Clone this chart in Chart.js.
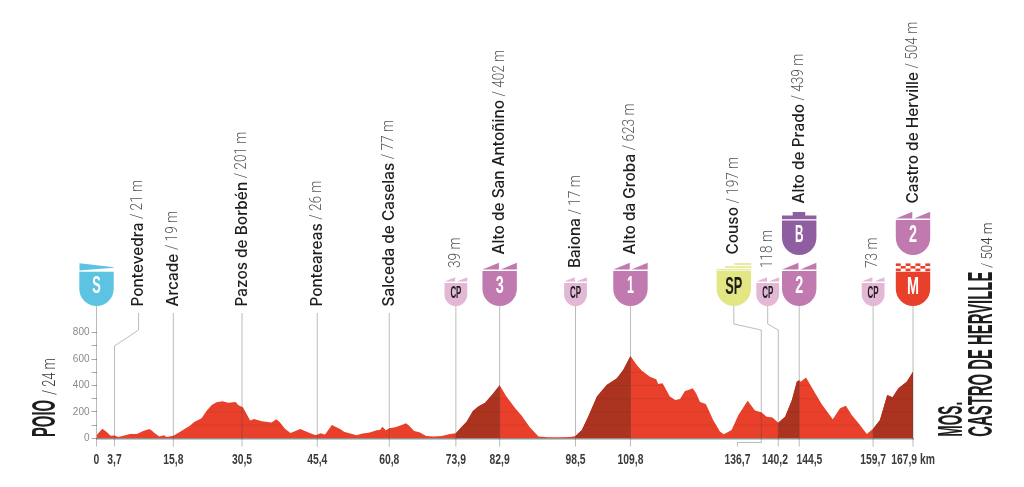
<!DOCTYPE html>
<html><head><meta charset="utf-8">
<style>html,body{margin:0;padding:0;background:#fff}canvas{display:block}</style>
<script src="https://cdn.jsdelivr.net/npm/chart.js@4"></script>
</head><body><canvas id="c" width="1024" height="487"></canvas>
<script>
const profileKm=[0,1.2,2.1,2.9,3.7,4.5,5.9,6.9,8.3,9.6,10.7,11.1,12,12.9,13.9,14.4,15.8,17.2,19.2,20.1,21.6,22.7,23.7,24.7,25.9,27.1,28.6,29.2,30.1,30.7,31.6,32.4,34,36,37,37.7,38.8,39.9,41.9,43.6,44.9,45.4,46,47,48.4,50.1,50.9,51.8,53.5,54.5,56.2,57.6,58.3,58.8,59.5,60.2,61.4,62.8,63.6,64.3,65.3,66.4,67.8,69.3,71,72.7,73.9,75.1,76.1,77.4,78.5,79.9,81.3,82.9,84.3,86.1,87.4,89.1,90.9,92.9,95.3,97.4,98.5,99.8,101.1,102.9,104.9,107,108.3,109.8,111.1,112.1,113.8,115.1,115.5,116.4,117.9,119,120,121,121.7,122.6,123.3,124.1,125.3,126.8,128.2,129,130.6,132,133.9,135.4,136.7,137.8,139,140.2,141.6,143,144,144.5,144.8,145.9,147.4,149.1,151.4,152.9,154.1,155.3,156.7,158.4,159.7,161.1,162.6,163.7,164.9,166.6,167.9];
const profileM=[24,73,48,20,21,10,23,33,33,56,68,66,38,13,23,10,19,50,96,124,152,210,253,273,280,270,275,250,235,195,134,146,129,119,144,121,71,40,71,43,25,26,38,28,101,71,50,40,23,35,43,61,63,88,61,77,83,101,114,96,56,45,18,13,18,33,39,88,126,207,240,270,328,402,316,227,172,83,13,8,8,10,17,63,164,316,404,455,518,623,556,513,467,447,412,417,316,290,298,359,366,379,341,275,260,139,51,30,63,177,285,210,197,164,157,118,164,290,429,439,429,460,366,260,144,227,247,177,114,33,73,139,328,311,379,429,504];
const climbSpans=[[73.9,82.9],[98.5,109.8],[140.2,144.5],[159.7,167.9]];
const xTickKm=[0,3.7,15.8,30.5,45.4,60.8,73.9,82.9,98.5,109.8,136.7,140.2,144.5,159.7,167.9];
const yTickValues=[0,100,200,300,400,500,600,700,800];
const placeKm=[3.7,15.8,30.5,45.4,60.8,73.9,82.9,98.5,109.8,136.7,140.2,144.5,159.7,167.9];
const placeNames=['Pontevedra','Arcade','Pazos de Borbén','Ponteareas','Salceda de Caselas','','Alto de San Antoñino','Baiona','Alto da Groba','Couso','','Alto de Prado','','Castro de Herville'];
const placeHeights=['21 m','19 m','201 m','26 m','77 m','39 m','402 m','17 m','623 m','197 m','118 m','439 m','73 m','504 m'];
const startText=['POIO','/ 24 m'];
const finishText=['MOS.','CASTRO DE HERVILLE','/ 504 m'];

const RED='#e8402a',DARK='#ab3320',STEM='rgba(70,70,70,.36)';
const NAME='Inter',COND='"Liberation Sans"';
const tickShift={30.5:-2.8,60.8:-2.9};
const labelShift={30.5:-2.8,60.8:-2.9,136.7:-23.8,140.2:-3.3,144.5:10.2};

function fit(ctx,str,x,y,rot,font,len,color,align){
  ctx.save();ctx.font=font;ctx.fillStyle=color;ctx.textBaseline='middle';ctx.textAlign=align||'center';
  ctx.translate(x,y);ctx.rotate(rot);
  const w=ctx.measureText(str).width;ctx.scale(len/w,1);ctx.fillText(str,0,0);ctx.restore();
}
function shield(ctx,cx,top,bottom,hw,color){
  const r=hw;ctx.fillStyle=color;ctx.beginPath();
  ctx.moveTo(cx-hw,top);ctx.lineTo(cx+hw,top);ctx.lineTo(cx+hw,bottom-r);
  ctx.arc(cx,bottom-r,r,0,Math.PI);ctx.closePath();ctx.fill();
}
function flags(ctx,cx,base,hw,h,color){
  ctx.fillStyle=color;
  ctx.beginPath();ctx.moveTo(cx-hw,base);ctx.lineTo(cx-.7,base-h);ctx.lineTo(cx-.7,base);ctx.closePath();ctx.fill();
  ctx.beginPath();ctx.moveTo(cx+1,base);ctx.lineTo(cx+hw,base-h);ctx.lineTo(cx+hw,base);ctx.closePath();ctx.fill();
}
function bigShield(ctx,cx,off,color,label,lw,textColor){
  flags(ctx,cx,269.6+off,17.2,6.8,color);
  shield(ctx,cx,271+off,306+off,17.2,color);
  fit(ctx,label,cx,287+off,0,'bold 23px '+COND,lw,textColor||'#fff');
}
function cpShield(ctx,cx){
  const c='#e3b8d7';
  flags(ctx,cx,281.6,11.4,4.4,c);
  shield(ctx,cx,283,306,11.4,c);
  fit(ctx,'CP',cx,293.6,0,'bold 16px '+COND,11,'#1d1d1b');
}

const overlay={id:'overlay',afterDatasetsDraw(chart){
  const ctx=chart.ctx,X=chart.scales.x,Y=chart.scales.y,px=k=>X.getPixelForValue(k),base=Y.getPixelForValue(0);
  // faint grid only inside the profile
  ctx.save();ctx.beginPath();ctx.moveTo(px(0),base);
  profileKm.forEach((k,i)=>ctx.lineTo(px(k),Y.getPixelForValue(profileM[i])));
  ctx.lineTo(px(167.9),base);ctx.closePath();ctx.clip();
  ctx.strokeStyle='rgba(0,0,0,.07)';ctx.lineWidth=1;
  yTickValues.slice(1).forEach(v=>{const y=Y.getPixelForValue(v);ctx.beginPath();ctx.moveTo(px(0),y);ctx.lineTo(px(167.9),y);ctx.stroke();});
  ctx.restore();
  // stems
  ctx.strokeStyle=STEM;ctx.lineWidth=1;
  const poly=p=>{ctx.beginPath();p.forEach((q,i)=>i?ctx.lineTo(q[0],q[1]):ctx.moveTo(q[0],q[1]));ctx.stroke();};
  poly([[px(0),306],[px(0),446.6]]);
  [15.8,30.5,45.4,60.8].forEach(k=>{const x=px(k)+(tickShift[k]||0);poly([[x,313],[x,446.6]]);});
  [73.9,82.9,98.5,109.8,144.5,159.7,167.9].forEach(k=>poly([[px(k),306],[px(k),446.6]]));
  poly([[138.6,313],[138.6,330],[px(3.7),346],[px(3.7),446.6]]);
  poly([[733.8,306],[733.8,324],[px(136.7),330],[px(136.7),442.5],[737.5,442.5],[737.5,446.6]]);
  poly([[767.7,306],[767.7,324],[px(140.2),330],[px(140.2),446.6]]);
  // place labels
  const offX={3.7:138.4-px(3.7),30.5:-2.8,60.8:-2.9,136.7:733.6-px(136.7),140.2:767.7-px(140.2)};
  const bottom={73.9:268,82.9:254.5,98.5:268,109.8:254.5,136.7:254.5,140.2:268,144.5:203.5,159.7:268,167.9:203.5};
  placeKm.forEach((k,i)=>{
    const x=px(k)+(offX[k]||0);let y=bottom[k]||306.5;
    ctx.save();ctx.translate(x,y);ctx.rotate(-Math.PI/2);ctx.textBaseline='middle';ctx.textAlign='left';
    let dx=0;
    if(placeNames[i]){ctx.font='500 15.4px '+NAME;ctx.fillStyle='#1d1d1b';ctx.fillText(placeNames[i],0,0);dx=ctx.measureText(placeNames[i]).width+3.5;}
    ctx.font='300 16px Roboto';ctx.fillStyle='#55565a';ctx.translate(dx,0);ctx.scale(.85,1);
    ctx.fillText((placeNames[i]?'/ ':'')+placeHeights[i],0,0);
    ctx.restore();
  });
  // start badge
  const s=px(0);shield(ctx,s,271.7,306,17.2,'#5cc3e3');
  ctx.fillStyle='#5cc3e3';ctx.beginPath();ctx.moveTo(s-17,263.3);ctx.lineTo(s+17.5,267.3);ctx.lineTo(s+17,267.7);ctx.lineTo(s-17,270.6);ctx.closePath();ctx.fill();
  fit(ctx,'S',s,286.5,0,'bold 23px '+COND,8.5,'#fff');
  // categorised climbs and checkpoints
  [73.9,98.5,159.7].forEach(k=>cpShield(ctx,px(k)));
  cpShield(ctx,767.7);
  bigShield(ctx,px(82.9),0,'#c07aaf','3',8);
  bigShield(ctx,px(109.8),0,'#c07aaf','1',7);
  bigShield(ctx,px(144.5),0,'#c07aaf','2',8);
  bigShield(ctx,px(167.9),-51,'#c07aaf','2',8);
  // bonus
  const b=px(144.5),pu='#8f5ea1';
  ctx.fillStyle=pu;ctx.fillRect(b-6.5,212,12.5,4);ctx.fillRect(b-17.2,215.5,34.4,3.7);
  shield(ctx,b,220.4,255,17.2,pu);fit(ctx,'B',b,236,0,'bold 23px '+COND,8.5,'#fff');
  // sprint
  const c=733.8,ye='#e2e683';
  ctx.fillStyle=ye;ctx.fillRect(c+.4,263.2,17,1.6);ctx.fillRect(c-8.9,266.3,26.3,1.5);ctx.fillRect(c-17.2,269.2,34.4,1.2);
  shield(ctx,c,271,306,17.2,ye);fit(ctx,'SP',c,287.5,0,'bold 23px '+COND,17,'#1d1d1b');
  // finish
  const f=px(167.9);
  shield(ctx,f,271.7,306,17.2,RED);fit(ctx,'M',f,287.5,0,'bold 23px '+COND,12,'#fff');
  ctx.fillStyle=RED;for(let r=0;r<3;r++)for(let q=0;q<7;q++){if((q+r)%2===0)ctx.fillRect(f-17.2+q*4.92,263.4+r*2.6,4.92,2.6);}
  // start & finish names
  const up=-Math.PI/2;
  fit(ctx,startText[0],46,437,up,'bold 33px '+COND,37,'#1d1d1b','left');
  fit(ctx,startText[1],50,395,up,'300 19px Roboto',37,'#333','left');
  fit(ctx,finishText[0],952.5,436.7,up,'bold 35px '+COND,35,'#1d1d1b','left');
  fit(ctx,finishText[1],982.5,436.7,up,'bold 35px '+COND,165,'#1d1d1b','left');
  fit(ctx,finishText[2],988,268,up,'300 15px Roboto',45.5,'#333','left');
  // km labels
  X.ticks.forEach(t=>{
    const x=px(t.value)+(labelShift[t.value]||0);
    const str=String(t.value).replace('.',',')+(t.value===167.9?' km':'');
    ctx.save();ctx.font='bold 15px '+COND;ctx.fillStyle='#3c3c3b';ctx.textAlign='center';ctx.textBaseline='middle';
    ctx.translate(x,459.5);ctx.scale(.69,1);ctx.fillText(str,0,0);ctx.restore();
  });
}};

new Chart(document.getElementById('c'),{
  type:'line',
  data:{datasets:[
    {data:profileKm.map((k,i)=>({x:k,y:profileM[i]})),borderWidth:0,pointRadius:0,fill:'origin',backgroundColor:RED,tension:0,order:2},
    ...climbSpans.map(s=>({data:profileKm.map((k,i)=>({x:k,y:profileM[i]})).filter(p=>p.x>=s[0]&&p.x<=s[1]),borderWidth:0,pointRadius:0,fill:'origin',backgroundColor:DARK,tension:0,order:1}))
  ]},
  plugins:[overlay],
  options:{
    responsive:false,animation:false,devicePixelRatio:1,
    layout:{padding:{left:0,right:111,top:332.7,bottom:0}},
    plugins:{legend:{display:false},tooltip:{enabled:false}},
    scales:{
      x:{type:'linear',min:0,max:167.9,
        afterBuildTicks(a){a.ticks=xTickKm.map(v=>({value:v}));},
        afterFit(a){a.height=48.7;},
        grid:{display:false},border:{display:true,color:'rgba(110,110,110,.75)',width:1.5},
        ticks:{display:false,autoSkip:false}},
      y:{type:'linear',min:0,max:800,
        afterBuildTicks(a){a.ticks=yTickValues.map(v=>({value:v}));},
        afterFit(a){a.width=96.5;},
        grid:{drawOnChartArea:false,drawTicks:true,tickLength:5,color:'rgba(110,110,110,.6)'},border:{display:false},
        ticks:{autoSkip:false,padding:2,color:'#8a8a8a',font:{family:'"Liberation Sans"',size:10},callback(v){return v%200===0?String(v):'';}}}
    }
  }
});
</script></body></html>
